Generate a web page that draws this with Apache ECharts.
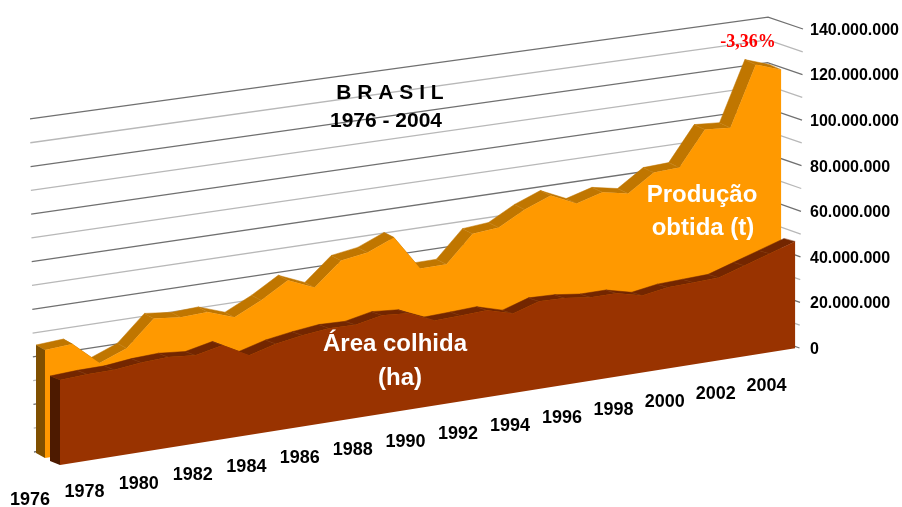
<!DOCTYPE html>
<html>
<head>
<meta charset="utf-8">
<style>html,body{margin:0;background:#fff}#main{width:902px;height:507px}</style>
<script src="https://cdn.jsdelivr.net/npm/echarts@6/dist/echarts.min.js"></script>
</head>
<body>
<div id="main"></div>
<script>
var years = [1976,1977,1978,1979,1980,1981,1982,1983,1984,1985,1986,1987,1988,1989,1990,1991,1992,1993,1994,1995,1996,1997,1998,1999,2000,2001,2002,2003,2004]
// Produção obtida (t)
var producao = [47400000,48100000,37900000,42500000,53700000,52300000,52800000,48600000,54200000,61100000,56100000,66100000,67800000,72500000,57100000,57100000,68700000,69600000,75700000,80000000,74700000,77800000,75500000,82900000,83300000,98200000,97300000,123200000,119200000]
// Área colhida (ha)
var area = [37300000,37900000,38000000,39300000,39800000,38700000,41200000,35000000,38200000,40000000,41300000,40900000,43300000,42300000,37300000,37700000,38200000,34900000,38500000,38100000,36600000,36600000,33800000,35600000,36000000,36400000,39900000,43400000,46900000]
var gridLevels = [0,10000000,20000000,30000000,40000000,50000000,60000000,70000000,80000000,90000000,100000000,110000000,120000000,130000000,140000000]

var gridLeft = 34, gridRight = 770, gridTop = 30.5, gridHeight = 319
var gridBottom = gridTop + gridHeight
var last = years.length - 1

// planos da projeção 3D (esquerda -> direita)
var wallPlane = {x0: 34, x1: 766, lean0: -0.0125, lean1: 0.0125, y0: 452, y1: 335, k0: 1.044, k1: 0.997}
var sidePlane = {x0: 799.5, x1: 799.5, lean0: 0.011, lean1: 0.011, y0: 348, y1: 348, k0: 1, k1: 1}
var orangeFront = {x0: 45, x1: 783, lean0: 0, lean1: 0, y0: 458, y1: 341, k0: 1, k1: 1}
var orangeBack = {x0: 36, x1: 772, lean0: 0, lean1: 0, y0: 453, y1: 336, k0: 1, k1: 1}
var brownFront = {x0: 60, x1: 797, lean0: 0, lean1: 0, y0: 465, y1: 348, k0: 1, k1: 1}
var brownBack = {x0: 50, x1: 786, lean0: 0, lean1: 0, y0: 461, y1: 345, k0: 1, k1: 1}
var labelPlane = {x0: 30, x1: 768.5, lean0: 0, lean1: 0, y0: 500.5, y1: 385.5, k0: 0, k1: 0}

function lerp(a, b, t) { return a + (b - a) * t }

function project(plane, p) {
  var t = (p[0] - gridLeft) / (gridRight - gridLeft)
  t = t * 1.04 / (1 + 0.04 * t) // leve perspectiva
  var h = gridBottom - p[1]
  return [
    lerp(plane.x0, plane.x1, t) + lerp(plane.lean0, plane.lean1, t) * h,
    lerp(plane.y0, plane.y1, t) - h * lerp(plane.k0, plane.k1, t)
  ]
}

function rows(values) {
  return years.map(function (y, i) { return [i, values[i]] })
}

// faixa superior de cada ano
function ridgeSeries(values, front, back, color) {
  return {
    type: 'custom',
    silent: true,
    data: rows(values),
    encode: {x: 0, y: 1},
    renderItem: function (params, api) {
      var i = params.dataIndex
      if (i === last) return null
      var a = api.coord([i, values[i]])
      var b = api.coord([i + 1, values[i + 1]])
      var fa = project(front, a), fb = project(front, b)
      var ba = project(back, a), bb = project(back, b)
      return {
        type: 'group',
        children: [
          {type: 'polygon', shape: {points: [ba, bb, fb, fa]}, style: {fill: color, stroke: color, lineWidth: 0.5}},
          {type: 'line', shape: {x1: bb[0], y1: bb[1], x2: fb[0], y2: fb[1]}, style: {stroke: 'rgba(255,255,255,0.22)', lineWidth: 0.7}}
        ]
      }
    }
  }
}

// face frontal e lateral esquerda
function frontSeries(values, front, back, color, sideColor) {
  return {
    type: 'custom',
    silent: true,
    data: [[0, values[0]]],
    encode: {x: 0, y: 1},
    renderItem: function (params, api) {
      var pts = values.map(function (v, i) { return project(front, api.coord([i, v])) })
      var baseL = api.coord([0, 0]), baseR = api.coord([last, 0]), top = api.coord([0, values[0]])
      pts.push(project(front, baseR))
      pts.push(project(front, baseL))
      var side = [project(back, top), project(front, top), project(front, baseL), project(back, baseL)]
      return {
        type: 'group',
        children: [
          {type: 'polygon', shape: {points: side}, style: {fill: sideColor}},
          {type: 'polygon', shape: {points: pts}, style: {fill: color}}
        ]
      }
    }
  }
}

function note(text, x, y, size, color, family) {
  return {
    type: 'text',
    z: 100,
    x: x,
    y: y,
    style: {
      text: text,
      fill: color,
      font: 'bold ' + size + 'px "' + (family || 'Liberation Sans') + '"',
      textAlign: 'center',
      textVerticalAlign: 'middle'
    }
  }
}

var chart = echarts.init(document.getElementById('main'))
chart.setOption({
  animation: false,
  backgroundColor: '#fff',
  grid: {left: gridLeft, top: gridTop, width: gridRight - gridLeft, height: gridHeight},
  xAxis: {type: 'category', data: years, boundaryGap: false, show: false},
  yAxis: {
    type: 'value',
    position: 'right',
    offset: 33,
    min: 0,
    max: 140000000,
    interval: 20000000,
    splitLine: {show: false},
    axisLine: {show: false},
    axisTick: {show: false},
    axisLabel: {
      margin: 9,
      color: '#000',
      fontFamily: 'Liberation Sans',
      fontWeight: 'bold',
      fontSize: 16,
      formatter: function (v) { return String(v).replace(/\B(?=(\d{3})+$)/g, '.') }
    }
  },
  graphic: {
    z: 100,
    elements: [
      note('B R A S I L', 390, 93, 21, '#000'),
      note('1976 - 2004', 386, 121, 21, '#000'),
      note('-3,36%', 748, 42, 18, '#f00', 'Liberation Serif'),
      note('Produção', 702, 195, 24, '#fff'),
      note('obtida (t)', 703, 228, 24, '#fff'),
      note('Área colhida', 395, 344, 24, '#fff'),
      note('(ha)', 400, 378, 24, '#fff')
    ]
  },
  series: [
    {
      // linhas de grade: parede do fundo e parede lateral
      type: 'custom',
      silent: true,
      data: gridLevels.map(function (v) { return [0, v] }),
      encode: {x: 0, y: 1},
      renderItem: function (params, api) {
        var level = api.value(1)
        var a = project(wallPlane, api.coord([0, level]))
        var r = api.coord([last, level])
        var b = project(wallPlane, r)
        var c = project(sidePlane, r)
        var color = level % 20000000 === 0 ? '#707070' : '#b8b8b8'
        return {
          type: 'polyline',
          shape: {points: [a, b, c]},
          style: {fill: 'none', stroke: color, lineWidth: 1.3}
        }
      }
    },
    ridgeSeries(producao, orangeFront, orangeBack, '#c07600'),
    frontSeries(producao, orangeFront, orangeBack, '#ff9900', '#805000'),
    ridgeSeries(area, brownFront, brownBack, '#732600'),
    frontSeries(area, brownFront, brownBack, '#993300', '#4d1a00'),
    {
      // anos do eixo x, seguindo a inclinação do gráfico
      type: 'custom',
      silent: true,
      data: rows(area).filter(function (r) { return r[0] % 2 === 0 }),
      encode: {x: 0, y: 1},
      renderItem: function (params, api) {
        var i = api.value(0)
        var p = project(labelPlane, api.coord([i, 0]))
        return {
          type: 'text',
          x: p[0],
          y: p[1],
          style: {
            text: String(years[i]),
            fill: '#000',
            font: 'bold 18px "Liberation Sans"',
            textAlign: 'center',
            textVerticalAlign: 'middle'
          }
        }
      }
    }
  ]
})
</script>
</body>
</html>
